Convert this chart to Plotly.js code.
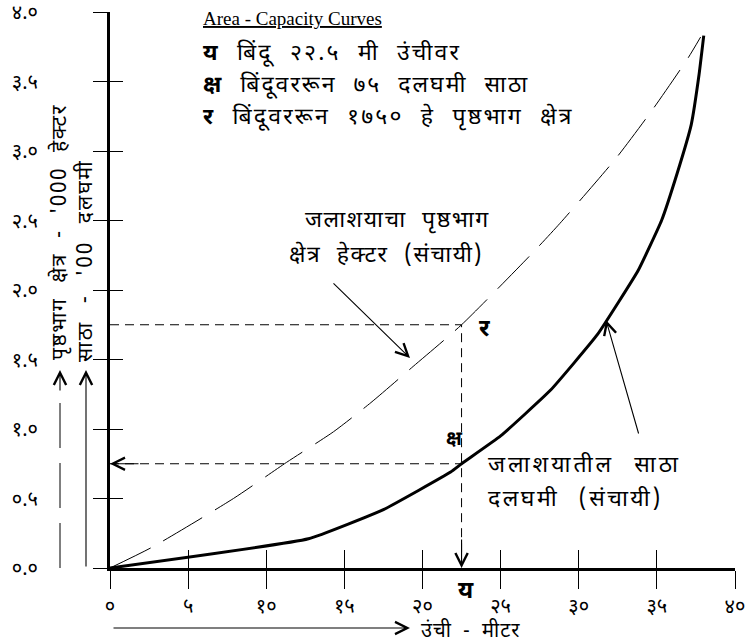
<!DOCTYPE html>
<html>
<head>
<meta charset="utf-8">
<script src="https://cdn.plot.ly/plotly-3.0.1.min.js"></script>
<style>
html,body{margin:0;padding:0;background:#fff;}
#chart{width:747px;height:644px;}
</style>
</head>
<body>
<div id="chart"></div>
<script>
// ---- data ----
const xTickVals = [0, 5, 10, 15, 20, 25, 30, 35, 40];
const xTickText = ['०', '५', '१०', '१५', '२०', '२५', '३०', '३५', '४०'];
const yTickVals = [0, 0.5, 1.0, 1.5, 2.0, 2.5, 3.0, 3.5, 4.0];
const yTickText = ['०.०', '०.५', '१.०', '१.५', '२.०', '२.५', '३.०', '३.५', '४.०'];

// area curve (thousand hectares) vs elevation (m)
const areaElevation = [0, 2.7, 7.9, 11.3, 14.3, 16.7, 19.4, 22.5, 26.9, 28.8, 32.4, 34.8, 37.0, 37.8];
const areaValues    = [0, 0.15, 0.50, 0.76, 0.98, 1.19, 1.45, 1.75, 2.25, 2.48, 2.95, 3.31, 3.67, 3.82];

// capacity curve (hundred MCM) vs elevation (m)
const capElevation = [0, 12.7, 17.5, 21.8, 22.5, 25.0, 28.2, 31.2, 33.8, 35.3, 36.3, 37.2, 37.7, 38.0];
const capValues    = [0, 0.21, 0.42, 0.69, 0.75, 0.95, 1.28, 1.68, 2.14, 2.50, 2.84, 3.19, 3.55, 3.83];

// reading point
const pointElevation = 22.5;
const pointCapacity = 0.75;
const pointArea = 1.75;

// ---- styling ----
const DEV = "'Noto Sans Devanagari', 'Lohit Devanagari', 'Noto Sans', sans-serif";
const SERIF = "'Liberation Serif', 'Times New Roman', serif";
const L = 110, R = 735, T = 12, B = 568;
const fx = p => (p - L) / (R - L);
const fy = q => (B - q) / (B - T);
const sp = (s, ls, ws) => '<span style="letter-spacing:' + ls + 'px;word-spacing:' + ws + 'px">' + s + '</span>';

const traces = [
  {
    x: areaElevation, y: areaValues, mode: 'lines', type: 'scatter',
    line: {color: '#000', width: 1, dash: '45px,15px', shape: 'spline', smoothing: 0.6},
    hoverinfo: 'skip'
  },
  {
    x: capElevation, y: capValues, mode: 'lines', type: 'scatter',
    line: {color: '#000', width: 3, shape: 'spline', smoothing: 0.35},
    hoverinfo: 'skip'
  },
  {
    x: [0, pointElevation, pointElevation, null, 0, pointElevation],
    y: [pointArea, pointArea, 0, null, pointCapacity, pointCapacity],
    xaxis: 'x2', yaxis: 'y2',
    mode: 'lines', type: 'scatter',
    line: {color: '#000', width: 1, dash: '9px,6px'},
    hoverinfo: 'skip'
  }
];

function txt(px, py, text, size, opts) {
  return Object.assign({
    xref: 'paper', yref: 'paper', x: fx(px), y: fy(py),
    text: text, showarrow: false, xanchor: 'left', yanchor: 'middle',
    borderpad: 0,
    font: {family: DEV, size: size, color: '#000'}
  }, opts || {});
}
function arrow(px, py, ax, ay) {
  return {
    xref: 'paper', yref: 'paper', x: fx(px), y: fy(py), ax: ax, ay: ay,
    text: '', showarrow: true, arrowhead: 5, arrowsize: 2.2, arrowwidth: 1.1, arrowcolor: '#000'
  };
}

const annotations = [
  txt(202, 18, '<u>Area - Capacity Curves</u>', 18.5, {font: {family: SERIF, size: 19, color: '#000'}}),
  txt(202, 54, sp('<b>य</b> बिंदू २२.५ मी उंचीवर', 2.2, 9), 23),
  txt(202, 86, sp('<b>क्ष</b> बिंदूवररून ७५ दलघमी साठा', 2.0, 9), 23),
  txt(202, 118, sp('<b>र</b> बिंदूवररून १७५० हे पृष्ठभाग क्षेत्र', 2.2, 9), 23),
  txt(397, 221, sp('जलाशयाचा पृष्ठभाग', 1.5, 8), 23, {xanchor: 'center'}),
  txt(386, 256, sp('क्षेत्र हेक्टर (संचायी)', 1.5, 8), 23, {xanchor: 'center'}),
  txt(487, 466, sp('जलाशयातील साठा', 3, 11), 23),
  txt(487, 500, sp('दलघमी (संचायी)', 2.5, 11), 23),
  txt(484, 330, '<b>र</b>', 24, {xanchor: 'center'}),
  txt(454, 440, '<b>क्ष</b>', 20, {xanchor: 'center'}),
  txt(466, 592, '<b>य</b>', 24, {xanchor: 'center'}),
  txt(61, 232, sp("पृष्ठभाग क्षेत्र - '000 हेक्टर", 1.5, 8), 21, {xanchor: 'center', textangle: -90}),
  txt(87, 261, sp("साठा - '00 दलघमी", 2, 10), 21, {xanchor: 'center', textangle: -90}),
  txt(420, 631, sp('उंची - मीटर', 1, 5), 20),
  // guide arrowheads
  {xref: 'x', yref: 'y', x: 0, y: pointCapacity, ax: 30, ay: 0, text: '', showarrow: true,
   arrowhead: 5, arrowsize: 2.2, arrowwidth: 1.1, arrowcolor: '#000'},
  {xref: 'x', yref: 'y', x: pointElevation, y: 0, ax: 0, ay: -30, text: '', showarrow: true,
   arrowhead: 5, arrowsize: 2.2, arrowwidth: 1.1, arrowcolor: '#000'},
  // pointer arrows
  arrow(410, 358, -78, -76),
  arrow(606, 320, 33, 115),
  // axis-legend arrows
  arrow(60, 370, 0, 22),
  arrow(86, 370, 0, 198),
  arrow(410, 628, -298, 0)
];

const shapes = [
  {type: 'line', xref: 'paper', yref: 'paper', x0: fx(60), x1: fx(60), y0: fy(568), y1: fy(388),
   line: {color: '#000', width: 1, dash: '45px,15px'}}
];

const axisCommon = {
  showgrid: false, zeroline: false, tickmode: 'array',
  tickcolor: '#000', tickwidth: 1, color: '#000'
};

const layout = {
  width: 747, height: 644,
  margin: {l: L, r: 747 - R, t: T, b: 644 - B, pad: 0},
  paper_bgcolor: '#fff', plot_bgcolor: '#fff',
  showlegend: false,
  xaxis: Object.assign({}, axisCommon, {
    range: [0, 40], tickvals: xTickVals, ticktext: xTickText,
    ticks: 'outside', ticklen: 18, showline: true, linewidth: 3, linecolor: '#000',
    tickfont: {family: DEV, size: 20, color: '#000'}, ticklabelstandoff: 0
  }),
  yaxis: Object.assign({}, axisCommon, {
    range: [0, 4.0], tickvals: yTickVals, ticktext: yTickText,
    ticks: 'outside', ticklen: 14, showline: true, linewidth: 3, linecolor: '#000',
    tickfont: {family: DEV, size: 20, color: '#000'}, ticklabelstandoff: 51,
    ticklabeloverflow: 'allow'
  }),
  xaxis2: Object.assign({}, axisCommon, {
    overlaying: 'x', matches: 'x', anchor: 'y2', side: 'bottom',
    tickvals: xTickVals, ticks: 'inside', ticklen: 18, showticklabels: false, showline: false
  }),
  yaxis2: Object.assign({}, axisCommon, {
    overlaying: 'y', matches: 'y', anchor: 'x2', side: 'left',
    tickvals: yTickVals, ticks: 'inside', ticklen: 13, showticklabels: false, showline: false
  }),
  annotations: annotations,
  shapes: shapes
};

Plotly.newPlot('chart', traces, layout, {staticPlot: true, displayModeBar: false});
</script>
</body>
</html>
